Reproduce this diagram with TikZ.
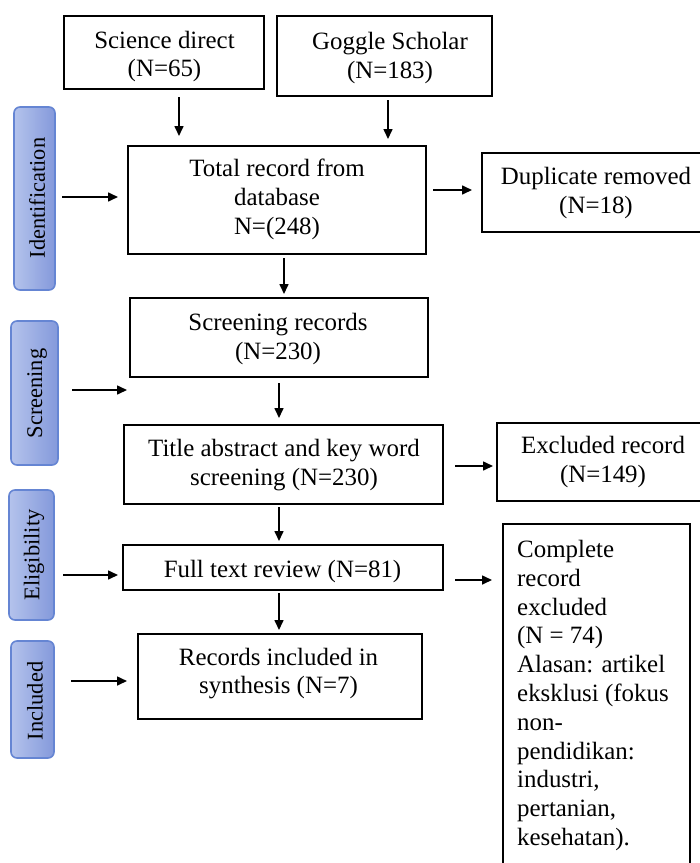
\documentclass[tikz,border=0pt]{standalone}
\usepackage{fontspec}
\setmainfont{Liberation Serif}
\usetikzlibrary{arrows.meta}
\definecolor{barA}{HTML}{B4C3EC}
\definecolor{barB}{HTML}{8499DB}
\definecolor{barE}{HTML}{6585D3}
\begin{document}
\begin{tikzpicture}[x=1bp,y=-1bp,
  box/.style={draw=black, line width=1.8bp, inner sep=0pt, fill=white},
  txt/.style={inner sep=0pt, align=center, font=\fontsize{25}{29}\selectfont},
  bar/.style={draw=barE, line width=1.6bp, rounded corners=6bp, left color=barA, right color=barB, inner sep=0pt},
  bartxt/.style={rotate=90, inner sep=0pt, font=\fontsize{22.5}{27}\selectfont},
  arr/.style={line width=1.6bp, -{Triangle[length=10bp,width=9bp]}}]
\useasboundingbox (0,0) rectangle (700,863);
\fill[white] (0,0) rectangle (700,863);

% side bars
\node[bar, minimum width=41bp, minimum height=183bp] (idb) at (34.5,198.5) {};
\node[bartxt] (idt) at (37,198) {Identification};
\node[bar, minimum width=47bp, minimum height=144bp] (scb) at (34.5,393) {};
\node[bartxt] (sct) at (37,393.5) {Screening};
\node[bar, minimum width=45bp, minimum height=130bp] (elb) at (31.5,555) {};
\node[bartxt] (elt) at (34,555) {Eligibility};
\node[bar, minimum width=43bp, minimum height=117bp] (inb) at (32.5,699.5) {};
\node[bartxt] (int) at (35,701) {Included};

% boxes
\node[box, minimum width=200bp, minimum height=73bp] (sd) at (164,52.5) {};
\node[txt] (sdt) at (164.5,56.5) {Science direct\\(N=65)};
\node[box, minimum width=215bp, minimum height=80bp] (gs) at (384.5,56) {};
\node[txt] (gst) at (390,58) {Goggle Scholar\\(N=183)};
\node[box, minimum width=298bp, minimum height=108bp] (tot) at (277,200) {};
\node[txt] (tott) at (277,199.5) {Total record from\\database\\N=(248)};
\node[box, minimum width=219bp, minimum height=79bp] (dup) at (591.5,192.5) {};
\node[txt] (dupt) at (596,193) {Duplicate removed\\(N=18)};
\node[box, minimum width=298bp, minimum height=79bp] (scr) at (279,337.5) {};
\node[txt] (scrt) at (278,339) {Screening records\\(N=230)};
\node[box, minimum width=319bp, minimum height=79bp] (tit) at (283.5,464.5) {};
\node[txt] (titt) at (284,465) {Title abstract and key word\\screening (N=230)};
\node[box, minimum width=204bp, minimum height=78bp] (exc) at (599,462) {};
\node[txt] (exct) at (603,462) {Excluded record\\(N=149)};
\node[box, minimum width=320bp, minimum height=45bp] (ful) at (283,567.5) {};
\node[txt] (fult) at (282.5,572) {Full text review (N=81)};
\node[box, minimum width=284bp, minimum height=85bp] (inc) at (280,676.5) {};
\node[txt] (inct) at (278.5,673.5) {Records included in\\synthesis (N=7)};
\node[box, minimum width=187bp, minimum height=345bp] (cmp) at (596.5,696.5) {};
\node[txt, align=left, anchor=north west, font=\fontsize{25}{28.9}\selectfont] (cmpt) at (517,540)
  {Complete\\record\\excluded\\(N = 74)\\Alasan: artikel\\eksklusi (fokus\\non-\\pendidikan:\\industri,\\pertanian,\\kesehatan).};

% arrow end coordinates
\coordinate (a1s) at (179,97);  \coordinate (a1e) at (179,136);
\coordinate (a2s) at (388,100); \coordinate (a2e) at (388,139);
\coordinate (a3s) at (433,190); \coordinate (a3e) at (472,190);
\coordinate (a4s) at (284,258); \coordinate (a4e) at (284,294);
\coordinate (a5s) at (62,197);  \coordinate (a5e) at (118,197);
\coordinate (a6s) at (72,390);  \coordinate (a6e) at (127,390);
\coordinate (a7s) at (279,383); \coordinate (a7e) at (279,418);
\coordinate (a8s) at (455,466); \coordinate (a8e) at (493,466);
\coordinate (a9s) at (279,507); \coordinate (a9e) at (279,541);
\coordinate (a10s) at (63,575); \coordinate (a10e) at (118,575);
\coordinate (a11s) at (455,580); \coordinate (a11e) at (492,580);
\coordinate (a12s) at (279,593); \coordinate (a12e) at (279,630);
\coordinate (a13s) at (71,681); \coordinate (a13e) at (127,681);

\draw[arr] (a1s) -- (a1e);
\draw[arr] (a2s) -- (a2e);
\draw[arr] (a3s) -- (a3e);
\draw[arr] (a4s) -- (a4e);
\draw[arr] (a5s) -- (a5e);
\draw[arr] (a6s) -- (a6e);
\draw[arr] (a7s) -- (a7e);
\draw[arr] (a8s) -- (a8e);
\draw[arr] (a9s) -- (a9e);
\draw[arr] (a10s) -- (a10e);
\draw[arr] (a11s) -- (a11e);
\draw[arr] (a12s) -- (a12e);
\draw[arr] (a13s) -- (a13e);
\end{tikzpicture}
\end{document}
